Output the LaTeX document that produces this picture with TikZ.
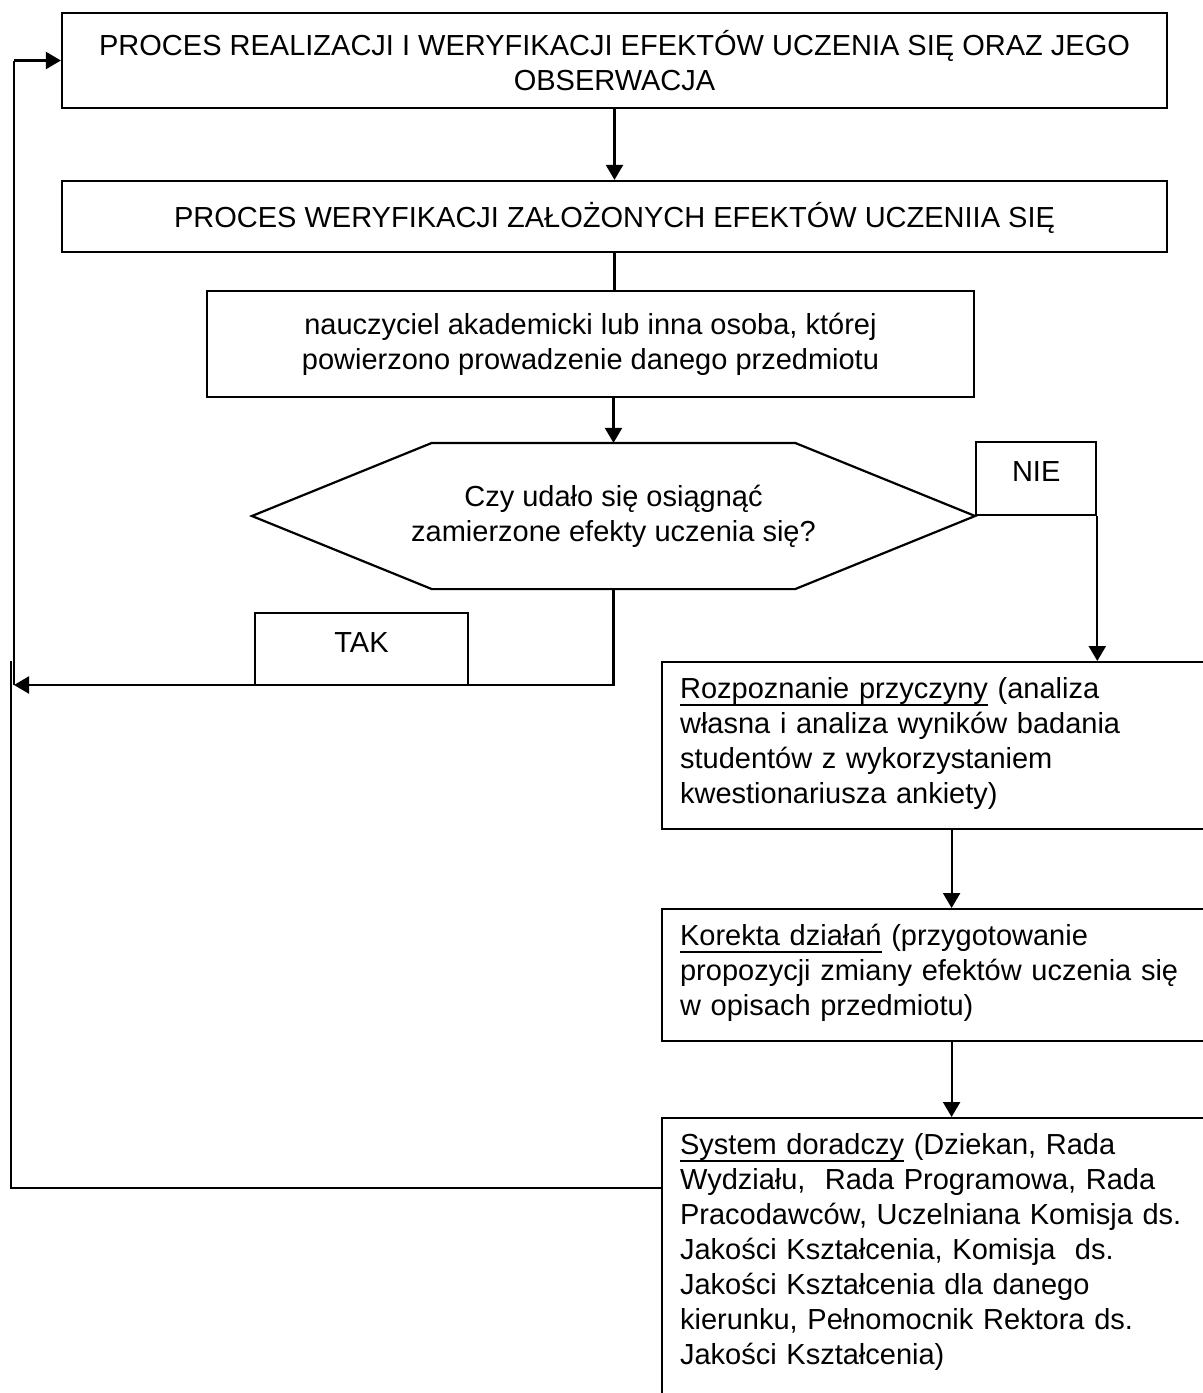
\documentclass[tikz,border=0pt]{standalone}
\usepackage{fontspec}
\setmainfont{Liberation Sans}
\usetikzlibrary{arrows.meta}
\newcommand{\podkr}[1]{\sbox0{#1}\rlap{\rule[-3.5pt]{\wd0}{1pt}}\usebox0}
\frenchspacing

\begin{document}
\begin{tikzpicture}[x=0.5pt,y=-0.5pt,line width=1.1pt,
  font=\fontsize{14.5pt}{17.5pt}\selectfont,
  blok/.style={draw,align=center,inner sep=0pt},
  lab/.style={draw,inner sep=0pt,text height=10.5pt,text depth=7pt},
  opis/.style={draw,anchor=north west,align=left,text width=256.5pt,
    inner xsep=9pt,inner ysep=7.25pt,text height=11pt},
  arr/.style={-{Triangle[length=7.5pt,width=8.5pt]}}]
  \useasboundingbox (0,0) rectangle (1203,1393);
  \clip (0,0) rectangle (1203,1393);
  \node[blok,minimum width=552.5pt,minimum height=47.5pt] (proc) at (614.5,60.5)
    {PROCES REALIZACJI I WERYFIKACJI EFEKTÓW UCZENIA SIĘ ORAZ JEGO\\OBSERWACJA};
  \node[blok,minimum width=552.5pt,minimum height=35.5pt,text height=10.5pt,text depth=0pt] (verif) at (614.5,216.5)
    {PROCES WERYFIKACJI ZAŁOŻONYCH EFEKTÓW UCZENIIA SIĘ};
  \node[blok,minimum width=383.5pt,minimum height=53pt] (teach) at (590.5,344)
    {nauczyciel akademicki lub inna osoba, której\\powierzono prowadzenie danego przedmiotu};
  \node[align=center,inner sep=0pt,minimum width=360.5pt,minimum height=72pt] (quest) at (613.5,516)
    {Czy udało się osiągnąć\\zamierzone efekty uczenia się?};
  \draw (quest.west) -- ([xshift=90pt]quest.north west) -- ([xshift=-90pt]quest.north east)
    -- (quest.east) -- ([xshift=-90pt]quest.south east) -- ([xshift=90pt]quest.south west) -- cycle;
  \node[lab,anchor=south west,minimum width=60pt,minimum height=36.5pt] (nie) at (quest.east) {NIE};
  \node[lab,minimum width=106.5pt,minimum height=36pt] (tak) at (361.5,649) {TAK};
  \node[opis,text depth=58pt] (rozp) at (661,661)
    {\podkr{Rozpoznanie przyczyny} (analiza\\własna i analiza wyników badania\\studentów z wykorzystaniem\\kwestionariusza ankiety)};
  \node[opis,text depth=40.5pt] (kor) at (661,908)
    {\podkr{Korekta działań} (przygotowanie\\propozycji zmiany efektów uczenia się\\w opisach przedmiotu)};
  \node[opis,text depth=116pt] (sys) at (661,1117)
    {\podkr{System doradczy} (Dziekan, Rada\\Wydziału,\ \ Rada Programowa, Rada\\Pracodawców, Uczelniana Komisja ds.\\Jakości Kształcenia, Komisja\ \ ds.\\Jakości Kształcenia dla danego\\kierunku, Pełnomocnik Rektora ds.\\Jakości Kształcenia)};
  \coordinate (lgora) at (14,60.5);
  \coordinate (lsrodek) at (14,685);
  \coordinate (lpocz) at (11,661);
  \coordinate (ldol) at (11,1188);
  \draw[arr] (proc) -- (verif);
  \draw (verif.south) -- (verif.south |- teach.north);
  \draw[arr] (teach.south -| quest.north) -- (quest.north);
  \draw[arr] (nie.south east) -- (nie.south east |- rozp.north);
  \draw[arr] ([xshift=7.5pt]rozp.south) -- ([xshift=7.5pt]kor.north);
  \draw[arr] ([xshift=7.5pt]kor.south) -- ([xshift=7.5pt]sys.north);
  \draw[arr] (quest.south) |- (lsrodek);
  \draw (lsrodek) -- (lgora);
  \draw[arr] (lgora) -- (proc.west);
  \draw (lpocz) -- (ldol) -- (ldol -| sys.west);
\end{tikzpicture}
\end{document}
